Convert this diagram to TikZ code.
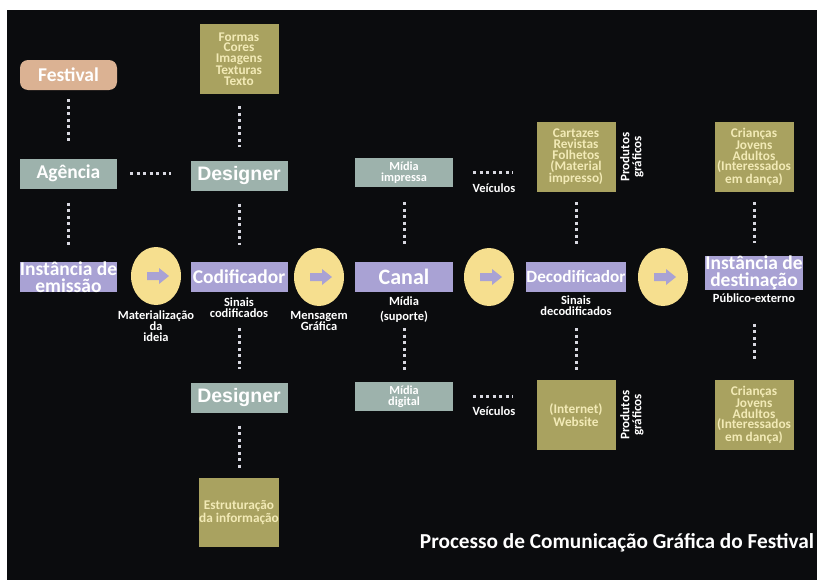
\documentclass[tikz,border=0pt]{standalone}
\usepackage{fontspec}
\setmainfont{Carlito}
\newfontfamily\arialfont{Liberation Sans}
\usetikzlibrary{shapes,positioning}
\definecolor{bgdark}{HTML}{0B0C0E}
\definecolor{peach}{HTML}{DBB293}
\definecolor{greyteal}{HTML}{9DB2AC}
\definecolor{lilac}{HTML}{A9A2D4}
\definecolor{olive}{HTML}{A9A260}
\definecolor{sun}{HTML}{F6DF8F}
\definecolor{cream}{HTML}{F2EAB6}
\definecolor{dotgrey}{HTML}{D8D8E0}
\newcommand\fsz[2]{\fontsize{#1}{#2}\selectfont\bfseries}

\begin{document}
\begin{tikzpicture}[x=1pt,y=-1pt,% pixel units, y runs downwards
      every node/.style={
        align=center,   % so that "\\" breaks the line
        inner sep=0pt,
        text=white
      },
      box/.style={rectangle,minimum width=97pt,minimum height=30pt},
      actor/.style={box,fill=greyteal},
      instance/.style={box,fill=lilac},
      content/.style={rectangle,fill=olive,minimum width=79pt,minimum height=70pt,
        text=cream,font=\fsz{13.3}{10.8}},
      relay/.style={ellipse,fill=sun,minimum width=50pt,minimum height=58pt},
      note/.style={font=\fsz{12.5}{11}},
      designer/.style={actor,font=\arialfont\bfseries\fontsize{19.5}{20}\selectfont},
      every edge/.style={draw=dotgrey,line width=3pt,dash pattern=on 3pt off 3.5pt}
    ]
    % background
    \fill[white] (0,0) rectangle (817,581);
    \fill[bgdark] (7,10) rectangle (817,580);

    % emission column
    \node[box,fill=peach,rounded corners=8pt,font=\fsz{19.5}{20}](fest) at (68.5,75){Festival};
    \node[actor,font=\fsz{19.5}{20}](ag) at (68.5,173.5){Agência};
    \node[instance,font=\fsz{19.5}{16.5}](emis) at (68.5,277){Instância de\\emissão};

    % coding column
    \node[content](formas) at (239,59){Formas\\Cores\\Imagens\\Texturas\\Texto};
    \node[designer](des1) at (239,175.5){Designer};
    \node[instance,font=\fsz{19.5}{20}](cod) at (239,277){Codificador};
    \node[designer](des2) at (239,397.5){Designer};
    \node[content,minimum height=69pt](estr) at (239,512.5){Estruturação\\da informação};

    % channel column
    \node[actor,minimum width=98pt,minimum height=29pt,font=\fsz{12.3}{11}](mimp) at (404,172.5){Mídia\\impressa};
    \node[instance,minimum width=98pt,font=\fsz{22}{22}](canal) at (404,277){Canal};
    \node[actor,minimum width=98pt,minimum height=29pt,font=\fsz{12.3}{11}](mdig) at (404,396.5){Mídia\\digital};

    % decoding column
    \node[content](cart) at (576,157){Cartazes\\Revistas\\Folhetos\\(Material\\impresso)};
    \node[instance,minimum width=99pt,font=\fsz{17.2}{18}](decod) at (576,277){Decodificador};
    \node[content](web) at (576,415){(Internet)\\Website};

    % destination column
    \node[content](cri1) at (754,157){Crianças\\Jovens\\Adultos\\(Interessados\\em dança)};
    \node[instance,minimum width=98pt,font=\fsz{19.5}{16.5}](dest) at (754,273){Instância de\\destinação};
    \node[content](cri2) at (754,415){Crianças\\Jovens\\Adultos\\(Interessados\\em dança)};

    % flow circles
    \node[relay](c1) at (156,276){};
    \node[relay](c2) at (319,277){};
    \node[relay](c3) at (489,277){};
    \node[relay](c4) at (663,277){};
    \foreach \c in {c1,c2,c3,c4}
      \fill[lilac] (\c.center) ++(-9,-4) -- ++(12,0) -- ++(0,-4) -- ++(10,8)
        -- ++(-10,8) -- ++(0,-4) -- ++(-12,0) -- cycle;

    % labels
    \node[note,below=5pt of c1](matlab){Materialização\\da\\ideia};
    \node[note,below=5pt of cod](codlab){Sinais\\codificados};
    \node[note,below=5pt of c2](msglab){Mensagem\\Gráfica};
    \node[note,font=\fsz{12.5}{15},below=4pt of canal](canlab){Mídia\\(suporte)};
    \node[note,below=3pt of decod](declab){Sinais\\decodificados};
    \node[note,below=4pt of dest](publab){Público-externo};
    \node[note](veic1) at (494,188){Veículos};
    \node[note](veic2) at (494,411){Veículos};
    \node[note,rotate=90,font=\fsz{13}{12}](prod1) at (632,157){Produtos\\gráficos};
    \node[note,rotate=90,font=\fsz{13}{12}](prod2) at (632,415){Produtos\\gráficos};
    \node[font=\fsz{21.3}{22}](title) at (617,543){Processo de Comunicação Gráfica do Festival};

    % dotted links
    \path
    (fest)edge [shorten <=9pt,shorten >=16pt] (ag)
    (ag)edge [shorten <=14pt,shorten >=17pt] (emis)
    (formas)edge [shorten <=12pt,shorten >=13pt] (des1)
    (des1)edge [shorten <=13pt,shorten >=17pt] (cod)
    (cod)edge [shorten <=36pt,shorten >=13pt] (des2)
    (des2)edge [shorten <=13pt,shorten >=10pt] (estr)
    (mimp)edge [shorten <=15pt,shorten >=17pt] (canal)
    (canal)edge [shorten <=36pt,shorten >=12pt] (mdig)
    (cart)edge [shorten <=10pt,shorten >=17pt] (decod)
    (decod)edge [shorten <=36pt,shorten >=10pt] (web)
    (cri1)edge [shorten <=10pt,shorten >=13pt] (dest)
    (dest)edge [shorten <=34pt,shorten >=17pt] (cri2)
    (ag)edge [shorten <=13pt,shorten >=19pt] (ag -| des1.west)
    (mimp)edge [shorten <=20pt,shorten >=24pt] (mimp -| cart.west)
    (mdig)edge [shorten <=20pt,shorten >=24pt] (mdig -| web.west)
    ;
  \end{tikzpicture}
\end{document}
